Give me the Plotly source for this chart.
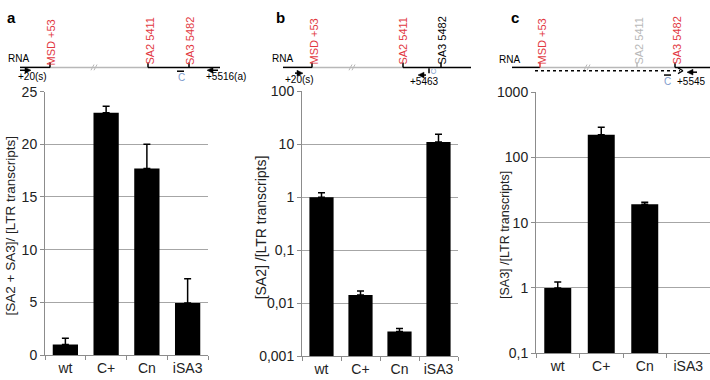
import plotly.graph_objects as go

# ---------------- data ----------------
categories = ["wt", "C+", "Cn", "iSA3"]

# panel a : [SA2 + SA3] / [LTR transcripts]
a_values = [1.0, 23.0, 17.7, 4.95]
a_err_top = [1.6, 23.6, 20.0, 7.25]

# panel b : [SA2] / [LTR transcripts]
b_values = [1.0, 0.0142, 0.0029, 11.0]
b_err_top = [1.21, 0.0169, 0.0033, 15.5]

# panel c : [SA3] / [LTR transcripts]
c_values = [1.0, 222.0, 19.1, None]
c_err_top = [1.24, 290.0, 20.6, None]

a_ticks = [0, 5, 10, 15, 20, 25]
a_ticktext = ["0", "5", "10", "15", "20", "25"]
b_ticks = [0.001, 0.01, 0.1, 1, 10, 100]
b_ticktext = ["0,001", "0,01", "0,1", "1", "10", "100"]
c_ticks = [0.1, 1, 10, 100, 1000]
c_ticktext = ["0,1", "1", "10", "100", "1000"]

titles = ["[SA2 + SA3]/ [LTR transcripts]", "[SA2] /[LTR transcripts]", "[SA3] /[LTR transcripts]"]

W, H = 710, 380
FONT = "Liberation Sans, Arial, sans-serif"
RED = "#e2383f"
LGRAY = "#b8b8b8"
BLUE = "#7e9ccc"
GRID = "#a6a6a6"


def px(x):
    return x / W


def py(y):
    return 1 - y / H


def err_plus(vals, tops):
    return [None if v is None else t - v for v, t in zip(vals, tops)]


fig = go.Figure()

panels = [
    (a_values, a_err_top, "x", "y"),
    (b_values, b_err_top, "x2", "y2"),
    (c_values, c_err_top, "x3", "y3"),
]
for vals, tops, xa, ya in panels:
    fig.add_trace(go.Bar(
        x=categories, y=vals, xaxis=xa, yaxis=ya,
        marker=dict(color="black", line=dict(width=0)),
        error_y=dict(type="data", symmetric=False, array=err_plus(vals, tops),
                     arrayminus=[0] * len(vals), color="black", thickness=1.5, width=3.5),
        showlegend=False,
    ))

xcommon = dict(showline=True, linecolor="#8c8c8c", linewidth=1, ticks="outside",
               tickson="boundaries", ticklen=4, tickcolor="#8c8c8c",
               tickfont=dict(family=FONT, size=14, color="#222"), showgrid=False,
               range=[-0.5, 3.5], fixedrange=True)
ycommon = dict(showline=True, linecolor="#8c8c8c", linewidth=1, ticks="outside",
               ticklen=4, tickcolor="#8c8c8c", showgrid=True, gridcolor=GRID,
               gridwidth=1, zeroline=False,
               tickfont=dict(family=FONT, size=14, color="#222"))

fig.update_layout(
    width=W, height=H, autosize=False,
    margin=dict(l=0, r=0, t=0, b=0),
    paper_bgcolor="white", plot_bgcolor="white",
    bargap=0.38,
    xaxis=dict(domain=[px(45), px(208)], anchor="y", **xcommon),
    yaxis=dict(domain=[py(362.3), py(87.3)], anchor="x", range=[0, 25],
               tickvals=a_ticks, ticktext=a_ticktext, **ycommon),
    xaxis2=dict(domain=[px(302), px(458)], anchor="y2", **xcommon),
    yaxis2=dict(domain=[py(363.3), py(87)], anchor="x2", type="log", range=[-3, 2],
                tickvals=b_ticks, ticktext=b_ticktext, **ycommon),
    xaxis3=dict(domain=[px(536), px(710)], anchor="y3", **xcommon),
    yaxis3=dict(domain=[py(360.5), py(87.7)], anchor="x3", type="log", range=[-1, 3],
                tickvals=c_ticks, ticktext=c_ticktext, **ycommon),
)

ann = []
shapes = []


def text(x, y, s, size=10, color="black", angle=0, xanchor="center", yanchor="middle", bold=False):
    ann.append(dict(x=px(x), y=py(y), xref="paper", yref="paper", text=("<b>%s</b>" % s) if bold else s,
                    showarrow=False, textangle=angle, xanchor=xanchor, yanchor=yanchor,
                    font=dict(family=FONT, size=size, color=color)))


def line(x0, y0, x1, y1, color="black", width=1.5, dash="solid"):
    shapes.append(dict(type="line", xref="paper", yref="paper", x0=px(x0), y0=py(y0),
                       x1=px(x1), y1=py(y1), line=dict(color=color, width=width, dash=dash)))


def arrow(xtail, xhead, y):
    d = 1 if xhead > xtail else -1
    line(xtail, y, xhead - d * 3, y, width=1.5)
    path = "M %f %f L %f %f L %f %f Z" % (px(xhead), py(y), px(xhead - d * 6), py(y - 3),
                                          px(xhead - d * 6), py(y + 3))
    shapes.append(dict(type="path", xref="paper", yref="paper", path=path,
                       fillcolor="black", line=dict(color="black", width=0.5)))


def slash(x, y):
    line(x - 4, y + 3, x - 1, y - 3, color=LGRAY, width=1)
    line(x - 1, y + 3, x + 2, y - 3, color=LGRAY, width=1)


def vlabel(x, s, color, ycenter=35):
    text(x, ycenter, s, size=11, color=color, angle=-90)


# ---- y-axis titles ----
text(10, 228, titles[0], size=13.5, color="#222", angle=-90)
text(261, 229, titles[1], size=14, color="#222", angle=-90)
text(505, 237, titles[2], size=12.5, color="#222", angle=-90)

# ---- schematic a ----
text(11, 10, "a", size=15, bold=True)
text(18, 53, "RNA", size=10)
line(20, 62, 50, 62)
line(50, 62, 148, 62, color=LGRAY)
slash(95, 62)
line(148, 62, 220, 62)
for x in (50, 148, 189):
    line(x, 57, x, 62)
vlabel(51, "MSD +53", RED, 36)
vlabel(150, "SA2 5411", RED, 34)
vlabel(189.5, "SA3 5482", RED, 34)
arrow(20, 31, 65)
text(32, 72, "+20(s)", size=10)
arrow(218, 207, 65)
text(204, 72, "+5516(a)", size=10, xanchor="left")
line(177, 66, 184, 66, width=1.5)
text(181, 73, "C", size=10, color=BLUE)

# ---- schematic b ----
text(280, 10, "b", size=15, bold=True)
text(282, 53, "RNA", size=10)
line(283, 62, 312, 62)
line(312, 62, 403, 62, color=LGRAY)
slash(353, 62)
line(403, 62, 471, 62)
for x in (312, 403, 441):
    line(x, 57, x, 62)
vlabel(314, "MSD +53", RED, 35)
vlabel(403, "SA2 5411", RED, 34)
vlabel(442, "SA3 5482", "black", 34)
arrow(295, 303, 68)
text(299, 75, "+20(s)", size=10)
arrow(426, 418, 70)
text(424, 77, "+5463", size=10)
line(429, 63, 429, 68, width=1.5)
text(433, 66, "C", size=8, color=BLUE, angle=-90)

# ---- schematic c ----
text(515, 10, "c", size=15, bold=True)
text(509, 54, "RNA", size=10)
line(512, 62, 540, 62)
line(540, 62, 675, 62, color=LGRAY)
slash(588, 62)
line(675, 62, 710, 62)
line(540, 57, 540, 62, color=RED)
line(637, 57, 637, 62, color=LGRAY)
line(675, 57, 675, 62)
line(535, 65.5, 680, 65.5, dash="dot")
line(678, 62.5, 683, 65.5, width=1.2)
line(678, 68.5, 683, 65.5, width=1.2)
vlabel(542, "MSD +53", RED, 35)
vlabel(639, "SA2 5411", LGRAY, 34)
vlabel(677, "SA3 5482", RED, 34)
arrow(697, 687, 67)
text(708, 77, "+5545", size=10, xanchor="right")
line(664, 70, 671, 70, width=1.5)
text(667, 77, "C", size=10, color=BLUE)

fig.update_layout(annotations=ann, shapes=shapes)
fig.write_html("out.html", config={"displayModeBar": False},
               post_script="document.body.style.margin='0';document.body.style.overflow='hidden';")
